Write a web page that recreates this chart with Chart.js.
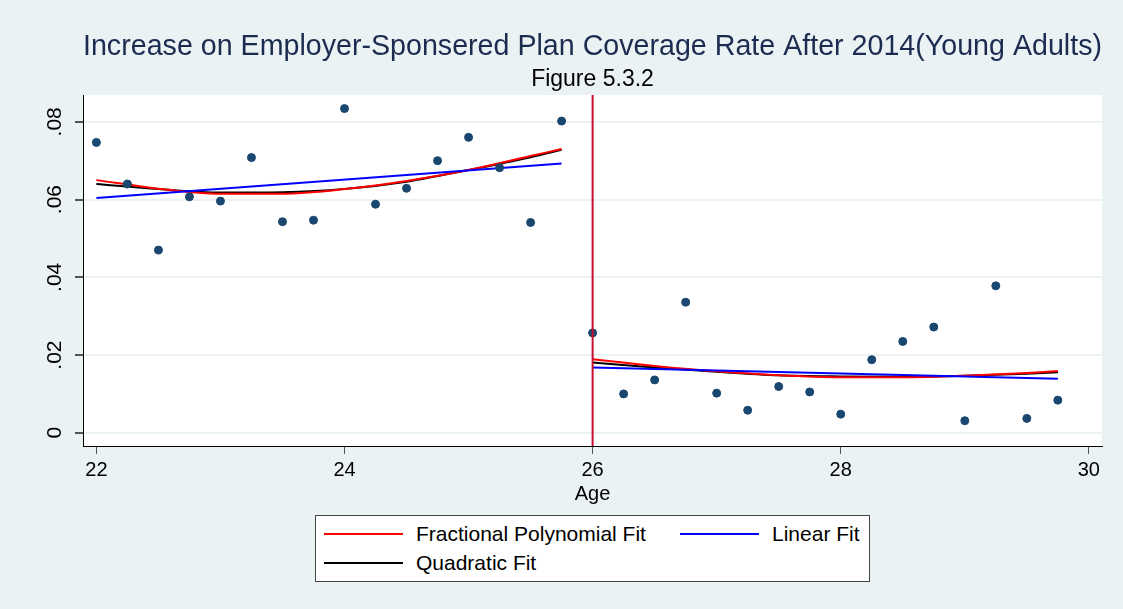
<!DOCTYPE html>
<html>
<head>
<meta charset="utf-8">
<script src="https://cdn.jsdelivr.net/npm/chart.js@4.4.1/dist/chart.umd.min.js"></script>
<style>
  html, body { margin: 0; padding: 0; background: #eaf2f3; }
  #wrap { position: relative; width: 1123px; height: 609px; }
  #legend {
    position: absolute; left: 315px; top: 515px; width: 555px; height: 67px;
    background: #fff; border: 1px solid #444; box-sizing: border-box;
    font-family: "Liberation Sans", Arial, sans-serif; font-size: 21px; color: #000;
  }
  .item { position: absolute; display: flex; align-items: center; height: 24px; }
  .swatch { width: 79px; height: 0; border-top: 2px solid; margin-right: 13px; }
</style>
</head>
<body>
<div id="wrap">
  <canvas id="chart" width="1123" height="609"></canvas>
  <div id="legend"></div>
</div>
<script>
// ages, one bin every quarter year
var agesLeft = [22, 22.25, 22.5, 22.75, 23, 23.25, 23.5, 23.75, 24, 24.25, 24.5, 24.75, 25, 25.25, 25.5, 25.75];
var agesRight = [26, 26.25, 26.5, 26.75, 27, 27.25, 27.5, 27.75, 28, 28.25, 28.5, 28.75, 29, 29.25, 29.5, 29.75];

// binned coverage rate increase
var rateLeft = [0.0747, 0.0640, 0.0470, 0.0607, 0.0596, 0.0708, 0.0543, 0.0547, 0.0834, 0.0588, 0.0629, 0.0700, 0.0760, 0.0682, 0.0541, 0.0802];
var rateRight = [0.0257, 0.0100, 0.0136, 0.0336, 0.0102, 0.0058, 0.0119, 0.0105, 0.0048, 0.0188, 0.0235, 0.0272, 0.0031, 0.0378, 0.0037, 0.0084];

// fitted curves, read at a few ages
var fitAgesLeft = [22, 22.5, 23, 23.5, 24, 24.5, 25, 25.5, 25.75];
var fitAgesRight = [26, 26.5, 27, 27.5, 28, 28.5, 29, 29.5, 29.75];
var fracLeft = [0.0650, 0.0628, 0.0615, 0.0615, 0.0627, 0.0648, 0.0676, 0.0712, 0.0730];
var fracRight = [0.0189, 0.0172, 0.0158, 0.0148, 0.0143, 0.0143, 0.0147, 0.0154, 0.0159];
var quadLeft = [0.0640, 0.0627, 0.0618, 0.0619, 0.0627, 0.0646, 0.0676, 0.0709, 0.0728];
var quadRight = [0.0181, 0.0168, 0.0157, 0.0148, 0.0145, 0.0144, 0.0147, 0.0152, 0.0156];
var linLeft = [0.0604, 0.0693];
var linRight = [0.0168, 0.0139];
var linAgesLeft = [22, 25.75];
var linAgesRight = [26, 29.75];

var cutoff = 26;
var xTicks = [22, 24, 26, 28, 30];
var yTicks = [0, 0.02, 0.04, 0.06, 0.08];
var xMin = 21.892, xMax = 30.106;
var yMin = -0.0034, yMax = 0.0869;

function pts(xs, ys) {
  return xs.map(function(x, i) { return {x: x, y: ys[i]}; });
}

// plot area white, rest light blue
var plotBg = {
  id: 'plotBg',
  beforeDraw: function(c) {
    var a = c.chartArea, ctx = c.ctx;
    ctx.save();
    ctx.fillStyle = '#ffffff';
    ctx.fillRect(a.left, a.top, a.right - a.left, a.bottom - a.top);
    ctx.restore();
  }
};

var fitStyle = function(color, label, data, legend) {
  return {
    type: 'line', label: label, data: data, borderColor: color, backgroundColor: color,
    borderWidth: 2, pointRadius: 0, fill: false, tension: 0.4, cubicInterpolationMode: 'monotone',
    inLegend: legend
  };
};

Chart.defaults.font.family = '"Liberation Sans", Arial, sans-serif';
Chart.defaults.color = '#000';

var ctx = document.getElementById('chart').getContext('2d');
var chart = new Chart(ctx, {
  type: 'scatter',
  data: {
    datasets: [
      {type: 'line', data: [{x: cutoff, y: yMin}, {x: cutoff, y: yMax}], borderColor: '#c8102e',
       borderWidth: 2, pointRadius: 0, fill: false},
      {type: 'scatter', data: pts(agesLeft, rateLeft).concat(pts(agesRight, rateRight)),
       backgroundColor: '#1a476f', borderColor: '#1a476f', pointRadius: 4, pointHoverRadius: 4},
      fitStyle('#0000ff', 'Linear Fit', pts(linAgesLeft, linLeft), true),
      fitStyle('#0000ff', 'Linear Fit', pts(linAgesRight, linRight), false),
      fitStyle('#ff0000', 'Fractional Polynomial Fit', pts(fitAgesLeft, fracLeft), true),
      fitStyle('#ff0000', 'Fractional Polynomial Fit', pts(fitAgesRight, fracRight), false),
      fitStyle('#000000', 'Quadratic Fit', pts(fitAgesLeft, quadLeft), true),
      fitStyle('#000000', 'Quadratic Fit', pts(fitAgesRight, quadRight), false)
    ]
  },
  options: {
    responsive: false,
    animation: false,
    layout: {padding: {left: 0, right: 21, top: 0, bottom: 103}},
    plugins: {
      legend: {display: false},
      tooltip: {enabled: false},
      title: {
        display: true, fullSize: false,
        text: 'Increase on Employer-Sponsered Plan Coverage Rate After 2014(Young Adults)',
        color: '#1c2b50', font: {size: 29, weight: 'normal'},
        padding: {top: 30, bottom: 0}
      },
      subtitle: {
        display: true, fullSize: false, text: 'Figure 5.3.2', color: '#000',
        font: {size: 23, weight: 'normal'},
        padding: {top: 1.4, bottom: 1.2}
      }
    },
    scales: {
      x: {
        type: 'linear', min: xMin, max: xMax,
        afterBuildTicks: function(s) { s.ticks = xTicks.map(function(v) { return {value: v}; }); },
        afterFit: function(s) { s.height = 60; },
        grid: {display: true, drawOnChartArea: false, drawTicks: true, tickLength: 8, color: '#555', tickColor: '#555'},
        border: {display: true, color: '#000', width: 1},
        ticks: {font: {size: 20}, padding: 4, maxRotation: 0},
        title: {display: true, text: 'Age', font: {size: 20}, padding: {top: 0, bottom: 0}}
      },
      y: {
        type: 'linear', min: yMin, max: yMax,
        afterBuildTicks: function(s) { s.ticks = yTicks.map(function(v) { return {value: v}; }); },
        afterFit: function(s) { s.width = 83; },
        grid: {color: '#eaf2f3', lineWidth: 2, tickLength: 8, tickColor: '#555'},
        border: {display: true, color: '#000', width: 1},
        ticks: {
          font: {size: 21}, padding: 5, minRotation: 90, maxRotation: 90, crossAlign: 'center',
          callback: function(v) { return v === 0 ? '0' : v.toFixed(2).replace(/^0/, ''); }
        }
      }
    }
  },
  plugins: [plotBg]
});

// legend box, two columns like the original
var legend = document.getElementById('legend');
var spots = [[8, 6], [364, 6], [8, 35]];
chart.data.datasets.filter(function(d) { return d.inLegend; })
  .sort(function(a, b) {
    var order = ['Fractional Polynomial Fit', 'Linear Fit', 'Quadratic Fit'];
    return order.indexOf(a.label) - order.indexOf(b.label);
  })
  .forEach(function(d, i) {
    var el = document.createElement('div');
    el.className = 'item';
    el.style.left = spots[i][0] + 'px';
    el.style.top = spots[i][1] + 'px';
    el.innerHTML = '<span class="swatch" style="border-color:' + d.borderColor + '"></span><span>' + d.label + '</span>';
    legend.appendChild(el);
  });
</script>
</body>
</html>
